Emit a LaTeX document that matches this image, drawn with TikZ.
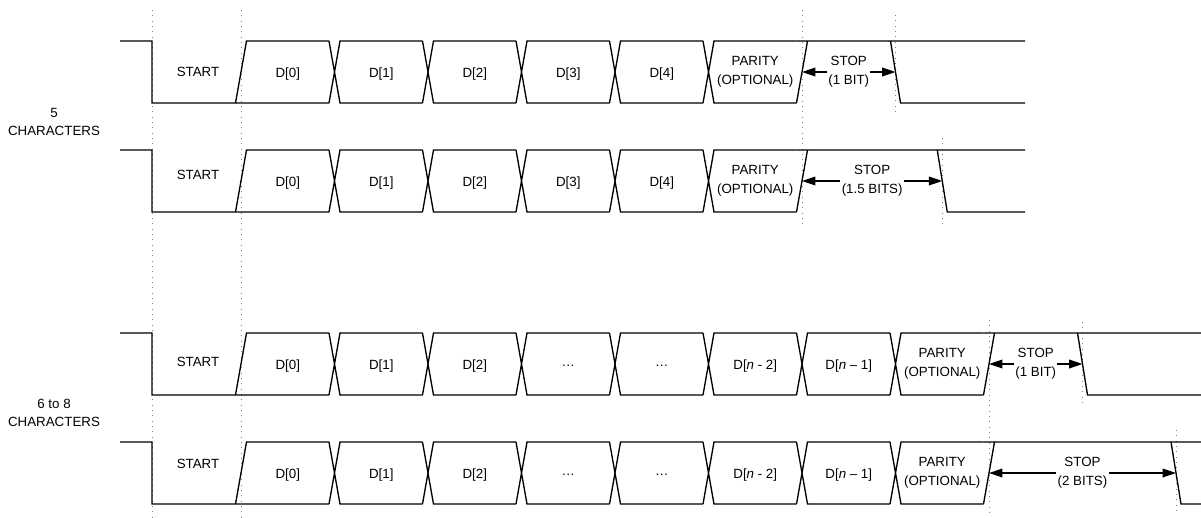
\documentclass[tikz,border=0pt]{standalone}
\usepackage{fontspec}
\setmainfont{Liberation Sans}
\usetikzlibrary{arrows.meta}
\tikzset{
  guide/.style={gray,line width=.6pt,dash pattern=on .6pt off 3.4pt},
  bit/.style={align=center,inner sep=1pt,font=\fontsize{10}{14}\selectfont},
  span/.style={{Triangle[length=10pt,width=6.5pt]}-{Triangle[length=10pt,width=6.5pt]}}
}
\begin{document}
\begin{tikzpicture}[x=.75pt,y=-.75pt,line width=1pt]
\useasboundingbox(0,0)rectangle(1201,517);
% dotted bit marks
\foreach\gx/\ga/\gb in{152/10/517,241/10/517,802/10/227,895.5/15/115,942.25/138/227,989/320/515,1082.5/322/407,1176/430/513}{\draw[guide](\gx,\ga)--(\gx,\gb);}
\node[bit](five)at(54,122){5\\CHARACTERS};
\node[bit](six)at(54,413){6 to 8\\CHARACTERS};
% row: number / top y / data crossings / stop length / right end / START offset / stop text
\foreach\row/\hi/\nd/\sl/\rend/\ty/\stp in{1/41/5/1/1025/31/{(1 BIT)},2/150/5/1.5/1025/25/{(1.5 BITS)},3/333/7/1/1201/29/{(1 BIT)},4/442/7/2/1201/22/{(2 BITS)}}{
  \pgfmathsetmacro\lo{\hi+62}
  \pgfmathsetmacro\pe{241+93.5*(\nd+1)}
  \pgfmathsetmacro\se{\pe+93.5*\sl}
  \draw(120,\hi)--(152,\hi)--(152,\lo)--(329,\lo) (235.5,\lo)--(246.5,\hi)--(329,\hi);
  \foreach\k in{1,...,\nd}{\pgfmathsetmacro\cx{241+93.5*\k}
    \draw(\cx-5.5,\hi)--(\cx+5.5,\lo)--(\cx+88,\lo) (\cx-5.5,\lo)--(\cx+5.5,\hi)--(\cx+88,\hi);}
  \draw(\pe-5.5,\lo)--(\pe+5.5,\hi) (\pe-5.5,\hi)--(\rend,\hi) (\se-5,\hi)--(\se+5,\lo)--(\rend,\lo);
  \node[bit](start\row)at(198,\hi+\ty){START};
  \node[bit](par\row)at(\pe-46.75,\hi+31){PARITY\\(OPTIONAL)};
  \coordinate(s\row)at(\pe,\hi+31);\coordinate(e\row)at(\se,\hi+31);
  \draw[span](s\row)--(e\row)node[midway,bit,fill=white](stop\row){STOP\\\stp};
}
\foreach\hi/\row in{41/1,150/2}{\foreach\lab[count=\k from 0]in{{D[0]},{D[1]},{D[2]},{D[3]},{D[4]}}{\node[bit](d\row-\k)at(287.75+93.5*\k,\hi+33){\lab};}}
\foreach\hi/\row in{333/3,442/4}{\foreach\lab[count=\k from 0]in{{D[0]},{D[1]},{D[2]},{\ldots},{\ldots},{D[\textit{n} - 2]},{D[\textit{n} -- 1]}}{\node[bit](d\row-\k)at(287.75+93.5*\k,\hi+33){\lab};}}
\end{tikzpicture}
\end{document}
